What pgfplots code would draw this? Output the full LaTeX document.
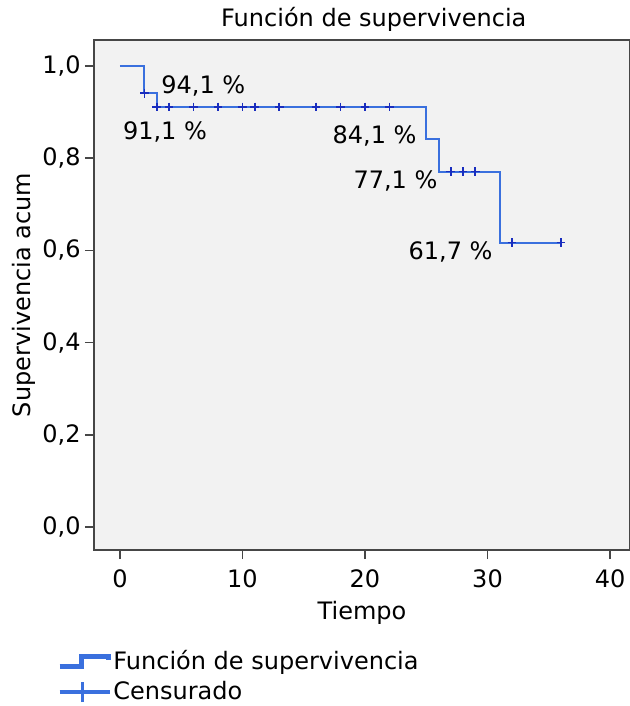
\documentclass[border=0pt]{standalone}
\usepackage{fontspec}
\setmainfont{DejaVu Sans}
\usepackage{pgfplots}
\pgfplotsset{compat=1.18}
\definecolor{linecol}{RGB}{58,112,222}
\definecolor{markcol}{RGB}{25,45,190}
\definecolor{bgcol}{RGB}{242,242,242}
\definecolor{framecol}{RGB}{70,70,70}
\begin{document}
\begin{tikzpicture}[font=\fontsize{12}{14}\selectfont]
\useasboundingbox (-47pt,-78pt) rectangle (268pt,275pt);
\begin{axis}[
  at={(0,0)}, anchor=south west,
  scale only axis, width=268pt, height=255pt,
  xmin=-2.12, xmax=41.63, ymin=-0.05, ymax=1.0564,
  axis background/.style={fill=bgcol},
  axis line style={framecol, line width=0.8pt},
  xtick={0,10,20,30,40}, ytick={0,0.2,0.4,0.6,0.8,1.0},
  xtick pos=bottom, ytick pos=left,
  tick align=outside, major tick length=4.5pt,
  tick style={framecol, line width=0.8pt},
  /pgf/number format/assume math mode=true,
  yticklabel style={/pgf/number format/.cd, fixed, fixed zerofill, precision=1, use comma, /tikz/.cd, anchor=east, inner sep=0pt, xshift=-2pt, font=\fontsize{12}{14}\selectfont},
  xticklabel style={/pgf/number format/.cd, fixed, precision=0, /tikz/.cd, anchor=base, inner sep=0pt, yshift=-14pt, font=\fontsize{12}{14}\selectfont},
  xlabel={Tiempo},
  xlabel style={at={(axis description cs:0.5,-0.137)}, anchor=base, inner sep=0pt, font=\fontsize{12}{14}\selectfont},
  ylabel={Supervivencia acum},
  ylabel style={at={(axis description cs:-0.13,0.5)}, anchor=center, inner sep=0pt, font=\fontsize{12}{14}\selectfont},
  legend style={at={(axis description cs:0,0)}, anchor=north west, xshift=-18.5pt, yshift=-49pt,
    draw=none, fill=none, inner sep=0pt, row sep=2.5pt, font=\fontsize{12}{14}\selectfont,
    nodes={inner sep=1pt}},
  legend cell align=left,
  clip=false,
]
\addplot[const plot, linecol, line width=1pt,
  legend image code/.code={\draw[linecol, line width=2.2pt] (0pt,-2.5pt) -- (11pt,-2.5pt) -- (11pt,2.5pt) -- (24.5pt,2.5pt) -- (24.5pt,0.5pt);}]
  coordinates {(0,1.0) (2,0.941) (3,0.911) (25,0.841) (26,0.771) (31,0.617) (36,0.617)};
\addlegendentry{Función de supervivencia}
\addplot[only marks, mark=+, mark size=2.2pt, markcol, mark options={line width=0.9pt},
  legend image code/.code={\draw[linecol, line width=1.8pt] (0pt,0pt) -- (25pt,0pt); \draw[linecol, line width=1.8pt] (11.5pt,-5pt) -- (11.5pt,5pt);}]
  coordinates {(2,0.941) (3,0.911) (4,0.911) (6,0.911) (8,0.911) (10,0.911) (11,0.911) (13,0.911) (16,0.911) (18,0.911) (20,0.911) (22,0.911)
    (27,0.771) (28,0.771) (29,0.771) (32,0.617) (36,0.617)};
\addlegendentry{Censurado}
\node[anchor=west, inner sep=0pt] at (axis cs:3.35,0.957) {94,1 \%};
\node[anchor=west, inner sep=0pt] at (axis cs:0.22,0.857) {91,1 \%};
\node[anchor=east, inner sep=0pt] at (axis cs:24.24,0.848) {84,1 \%};
\node[anchor=east, inner sep=0pt] at (axis cs:25.94,0.750) {77,1 \%};
\node[anchor=east, inner sep=0pt] at (axis cs:30.44,0.596) {61,7 \%};
\node[anchor=base, inner sep=0pt] at ([yshift=6.5pt]axis description cs:0.522,1) {Función de supervivencia};
\end{axis}
\end{tikzpicture}
\end{document}
